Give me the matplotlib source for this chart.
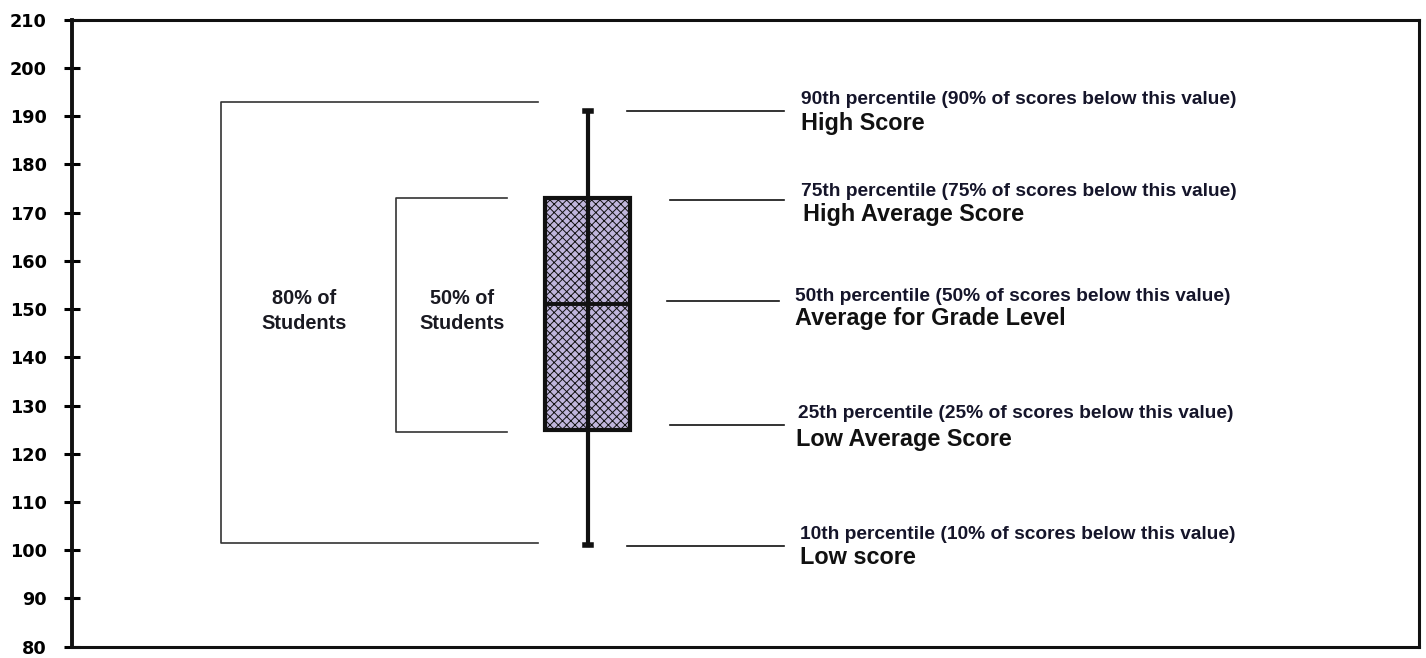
import matplotlib
matplotlib.use("Agg")
import matplotlib.pyplot as plt

# ---- data ----
stat_names = ["whislo", "q1", "med", "q3", "whishi"]
stat_values = [101, 125, 151, 173, 191]
yticks = [80, 90, 100, 110, 120, 130, 140, 150, 160, 170, 180, 190, 200, 210]

bracket80 = [101.6, 193.0]
bracket50 = [124.6, 173.0]
bracket_labels = ["80% of\nStudents", "50% of\nStudents"]

pct_labels = [
    "90th percentile (90% of scores below this value)",
    "75th percentile (75% of scores below this value)",
    "50th percentile (50% of scores below this value)",
    "25th percentile (25% of scores below this value)",
    "10th percentile (10% of scores below this value)",
]
desc_labels = ["High Score", "High Average Score", "Average for Grade Level",
               "Low Average Score", "Low score"]
line_values = [191, 172.7, 151.7, 125.9, 100.9]

# ---- layout (style / positions) ----
BOX_X = 3.828
BOX_W = 0.631
line_x0 = [4.117, 4.436, 4.421, 4.436, 4.117]
line_x1 = [5.282, 5.282, 5.245, 5.282, 5.289]
text_x1 = [5.415, 5.415, 5.364, 5.386, 5.408]
text_x2 = [5.415, 5.430, 5.364, 5.378, 5.408]
off1 = [2.4, 1.6, 0.9, 2.4, 2.3]
off2 = [-2.6, -3.1, -3.7, -3.0, -2.4]

plt.rcParams["hatch.color"] = "#22222e"
plt.rcParams["hatch.linewidth"] = 0.7

fig = plt.figure(figsize=(14.26, 6.58), dpi=100)
ax = fig.add_axes([0.0503, 0.01717, 0.9450, 0.95289])

stats = [dict(zip(stat_names, stat_values))]
stats[0]["fliers"] = []
bp = ax.bxp(stats, positions=[BOX_X], widths=BOX_W, showfliers=False,
            patch_artist=True, capwidths=0.045,
            boxprops=dict(facecolor="#c0b6dc", edgecolor="#111111", linewidth=3,
                          hatch="xxxx"),
            medianprops=dict(color="#111111", linewidth=2.8),
            whiskerprops=dict(color="#111111", linewidth=3),
            capprops=dict(color="#111111", linewidth=4))
# vertical whisker through the box
ax.plot([BOX_X, BOX_X], [stat_values[1], stat_values[3]], color="#111111",
        lw=3, zorder=3)

# brackets
bc = "#333333"
ax.plot([3.457, 1.105, 1.105, 3.457], [bracket80[1], bracket80[1], bracket80[0], bracket80[0]],
        color=bc, lw=1.2)
ax.plot([3.227, 2.404, 2.404, 3.227], [bracket50[1], bracket50[1], bracket50[0], bracket50[0]],
        color=bc, lw=1.2)
mid = 149.6
ax.text(1.721, mid, bracket_labels[0], ha="center", va="center", fontsize=14.3,
        family="Liberation Sans", fontweight="bold", color="#1a1a22", linespacing=1.4)
ax.text(2.893, mid, bracket_labels[1], ha="center", va="center", fontsize=14.3,
        family="Liberation Sans", fontweight="bold", color="#1a1a22", linespacing=1.4)

# right side connector lines and labels
for i in range(5):
    v = line_values[i]
    ax.plot([line_x0[i], line_x1[i]], [v, v], color="#111111", lw=1.2)
    ax.text(text_x1[i], v + off1[i], pct_labels[i], ha="left", va="center",
            fontsize=13.8, family="Liberation Sans", fontweight="bold",
            color="#15152a")
    ax.text(text_x2[i], v + off2[i], desc_labels[i], ha="left", va="center",
            fontsize=16.9, family="Liberation Sans", fontweight="bold",
            color="#111111")

ax.set_xlim(0, 10)
ax.set_ylim(80, 210)
ax.set_yticks(yticks)
ax.set_yticklabels([str(t) for t in yticks], fontsize=12.7, fontweight="bold",
                   family="DejaVu Sans")
ax.set_xticks([])
ax.tick_params(axis="y", direction="inout", length=12, width=2.2, pad=12)
for s in ax.spines.values():
    s.set_linewidth(2.2)
    s.set_color("#111111")
ax.spines["left"].set_linewidth(2.8)

fig.savefig("out.png", dpi=100)
